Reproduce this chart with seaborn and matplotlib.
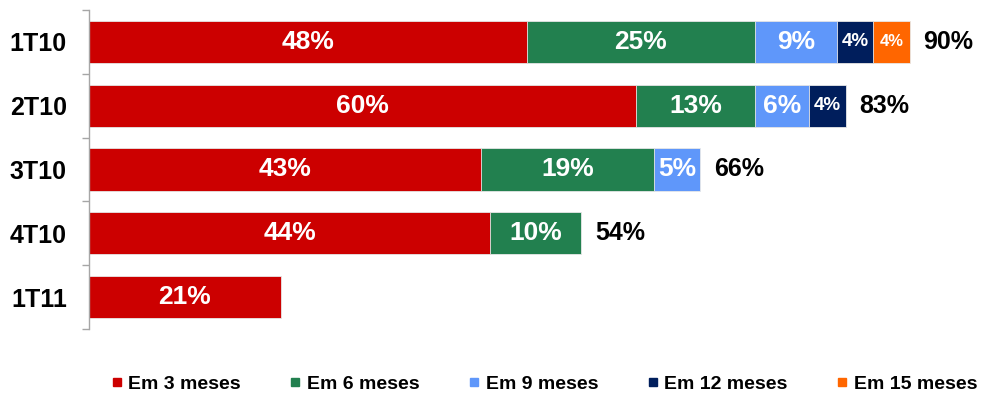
import matplotlib
matplotlib.use("Agg")
import matplotlib.pyplot as plt
import seaborn as sns
import pandas as pd
import numpy as np
from matplotlib.lines import Line2D

categories = ["1T10", "2T10", "3T10", "4T10", "1T11"]
series = ["Em 3 meses", "Em 6 meses", "Em 9 meses", "Em 12 meses", "Em 15 meses"]
em3 = [48, 60, 43, 44, 21]
em6 = [25, 13, 19, 10, None]
em9 = [9, 6, 5, None, None]
em12 = [4, 4, None, None, None]
em15 = [4, None, None, None, None]
totals = [90, 83, 66, 54, None]
colors = ["#CC0000", "#22804F", "#5F97FA", "#001E5C", "#FF6600"]

values = [em3, em6, em9, em12, em15]

rows = []
for s, vals in zip(series, values):
    for c, v in zip(categories, vals):
        if v is not None:
            rows.append({"cat": c, "series": s, "value": v})
df = pd.DataFrame(rows)
df["cum"] = df.groupby("cat")["value"].cumsum()
df["start"] = df["cum"] - df["value"]

sns.set_theme(style="white")
plt.rcParams["font.family"] = ["Liberation Sans", "DejaVu Sans"]
plt.rcParams["text.color"] = "black"

fig = plt.figure(figsize=(9.81, 3.96), dpi=100)
ax = fig.add_axes([89 / 981, 1 - 329 / 396, 890 / 981, 319 / 396])

for s, col in reversed(list(zip(series, colors))):
    sub = df[df["series"] == s]
    sns.barplot(data=sub, x="cum", y="cat", order=categories, orient="h",
                color=col, width=0.66, ax=ax, edgecolor="#E8E8E8",
                linewidth=0.6, errorbar=None, saturation=1)

small_sizes = {"Em 12 meses": 13.5, "Em 15 meses": 12}
for _, r in df.iterrows():
    y = categories.index(r["cat"])
    fs = small_sizes.get(r["series"], 19) if r["value"] <= 4 else 19
    ax.text(r["start"] + r["value"] / 2, y, f"{int(r['value'])}%", ha="center",
            va="center", color="white", fontsize=fs, fontweight="bold")

for i, t in enumerate(totals):
    if t is not None:
        end = df[df["cat"] == categories[i]]["cum"].max()
        ax.text(end + 1.5, i, f"{t}%", ha="left", va="center", color="black",
                fontsize=18, fontweight="bold")

ax.set_xlim(0, 890 / 9.12)
ax.set_ylim(4.5, -0.5)
ax.set_xlabel("")
ax.set_ylabel("")
ax.set_xticks([])
for sp in ["top", "right", "bottom"]:
    ax.spines[sp].set_visible(False)
ax.spines["left"].set_color("#A6A6A6")
ax.spines["left"].set_linewidth(1.0)
ax.set_yticks(range(len(categories)))
ax.set_yticklabels(categories, fontsize=18, fontweight="bold", color="black")
ax.set_yticks(np.arange(-0.5, len(categories), 1.0), minor=True)
ax.tick_params(axis="y", which="major", length=0, pad=16)
ax.tick_params(axis="y", which="minor", length=5, color="#A6A6A6", width=1.0, left=True)

handles = [Line2D([0], [0], marker="s", linestyle="none", markersize=5.8,
                  markerfacecolor=c, markeredgecolor=c) for c in colors]
leg = fig.legend(handles, series, loc="center", bbox_to_anchor=(545 / 981, 1 - 384 / 396),
                 ncol=5, frameon=False, handlelength=0.4, handletextpad=0.4,
                 columnspacing=2.6, prop={"size": 14, "weight": "bold"})
for t in leg.get_texts():
    t.set_color("black")

fig.savefig("out.png", dpi=100)
